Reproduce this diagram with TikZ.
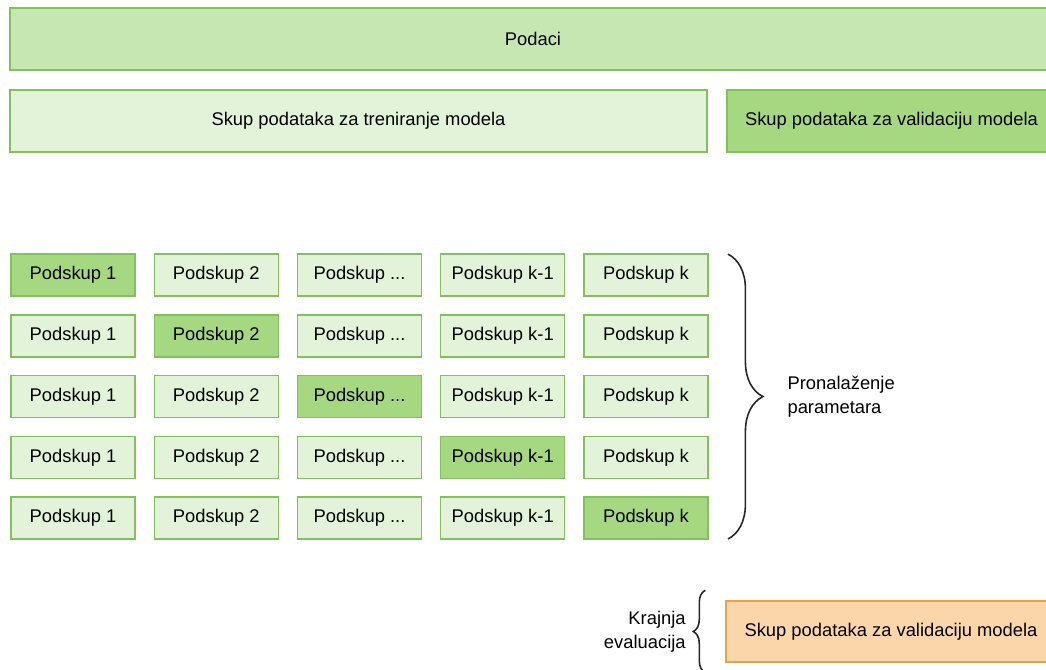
\documentclass[tikz,border=0pt]{standalone}
\usepackage{fontspec}
\setmainfont{Liberation Sans}
\usetikzlibrary{matrix,decorations.pathreplacing}
\definecolor{rub}{HTML}{82C15C}
\definecolor{svijetla}{HTML}{E3F3D9}
\definecolor{srednja}{HTML}{C6E7B1}
\definecolor{tamna}{HTML}{A5D880}
\definecolor{narancasta}{HTML}{FAD6AA}
\definecolor{rubnar}{HTML}{E8A24A}

\begin{document}
\begin{tikzpicture}[x=0.02cm,y=-0.02cm,
		font=\fontsize{10.45pt}{13.7pt}\selectfont,
		traka/.style={draw=rub,line width=0.85pt,minimum height=1.24cm,inner sep=0pt},
		celija/.style={draw=rub,fill=svijetla,line width=0.85pt,minimum width=2.48cm,minimum height=0.84cm,inner sep=0pt,outer sep=0pt},
		odabran/.style={fill=tamna},
		zagrada/.style={decorate,line width=0.9pt,draw=black!85}]
	\useasboundingbox (0,0) rectangle (1046,670);
	\node[traka,fill=srednja,minimum width=20.92cm] (podaci) at (533,39) {Podaci};
	\node[traka,fill=svijetla,minimum width=13.94cm] (trening) at (358.5,121) {Skup podataka za treniranje modela};
	\node[traka,fill=tamna,minimum width=6.58cm] (validacija) at (891.5,121) {Skup podataka za validaciju modela};
	\matrix (m) [matrix of nodes,row sep=0.345cm,column sep=0.355cm,nodes={celija},anchor=north west,inner sep=0pt] at (10,253)
	{
		|[odabran]| Podskup 1 & Podskup 2 & Podskup ... & Podskup k-1 & Podskup k\\
		Podskup 1 & |[odabran]| Podskup 2 & Podskup ... & Podskup k-1 & Podskup k\\
		Podskup 1 & Podskup 2 & |[odabran]| Podskup ... & Podskup k-1 & Podskup k\\
		Podskup 1 & Podskup 2 & Podskup ... & |[odabran]| Podskup k-1 & Podskup k\\
		Podskup 1 & Podskup 2 & Podskup ... & Podskup k-1 & |[odabran]| Podskup k\\};
	\node[traka,draw=rubnar,fill=narancasta,minimum width=6.6cm,minimum height=1.22cm] (evaluacija) at (891,631.5) {Skup podataka za validaciju modela};
	\draw[zagrada,decoration={brace,amplitude=0.7cm}]
		([xshift=0.4cm]m-1-5.north east) -- ([xshift=0.4cm]m-5-5.south east)
		node[midway,anchor=west,align=left,xshift=1.06cm] (pronalazenje) {Pronalaženje\\parametara};
	\draw[zagrada,decoration={brace,amplitude=0.24cm}]
		([xshift=-0.4cm,yshift=-0.2cm]evaluacija.south west) -- ([xshift=-0.4cm,yshift=0.2cm]evaluacija.north west)
		node[midway,anchor=east,align=right,xshift=-0.26cm] (krajnja) {Krajnja\\evaluacija};
\end{tikzpicture}
\end{document}
